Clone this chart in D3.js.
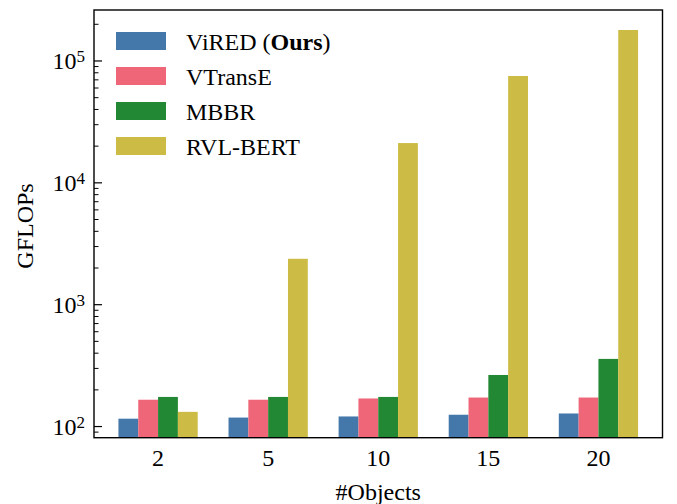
<!DOCTYPE html>
<html>
<head>
<meta charset="utf-8">
<script src="https://cdn.jsdelivr.net/npm/d3@7"></script>
<style>
  html, body { margin: 0; padding: 0; background: #fff; }
  svg { display: block; }
  text { font-family: "Liberation Serif", "DejaVu Serif", serif; fill: #000; }
</style>
</head>
<body>
<svg id="chart" width="677" height="504"></svg>
<script>
const categories = ["2", "5", "10", "15", "20"];
const seriesNames = ["ViRED (Ours)", "VTransE", "MBBR", "RVL-BERT"];
const vired   = [116, 118.5, 121, 125, 128];
const vtranse = [166, 166, 170, 173, 173];
const mbbr    = [175, 175, 175, 265, 359];
const rvlbert = [132, 2380, 21200, 75300, 179500];
const seriesValues = [vired, vtranse, mbbr, rvlbert];
const colors = ["#4477AA", "#EE6677", "#228833", "#CCBB44"];
const yTickExps = [2, 3, 4, 5];

const svg = d3.select("#chart");
const L = 94, R = 662.5, T = 10, B = 437.7;

const x = d3.scaleLinear().domain([-0.582, 4.582]).range([L, R]);
const y = d3.scaleLog().domain([81, 262000]).range([B, T]);
const barW = 0.18;

// bars
seriesValues.forEach((vals, s) => {
  svg.append("g").selectAll("rect").data(vals).join("rect")
    .attr("x", (d, i) => x(i + (s - 1.5) * barW - barW / 2))
    .attr("width", x(barW) - x(0))
    .attr("y", d => y(d))
    .attr("height", d => B - y(d))
    .attr("fill", colors[s]);
});

// y axis ticks (inward)
const majors = yTickExps.map(e => Math.pow(10, e));
const minors = [];
for (let e = 1; e <= 5; e++) for (let m = 2; m <= 9; m++) {
  const v = m * Math.pow(10, e);
  if (v >= 81 && v <= 262000) minors.push(v);
}
const axisG = svg.append("g");
axisG.selectAll("line.minor").data(minors).join("line")
  .attr("x1", L).attr("x2", L + 4.5)
  .attr("y1", d => y(d)).attr("y2", d => y(d))
  .attr("stroke", "#000").attr("stroke-width", 1);
axisG.selectAll("line.major").data(majors).join("line")
  .attr("x1", L).attr("x2", L + 8)
  .attr("y1", d => y(d)).attr("y2", d => y(d))
  .attr("stroke", "#000").attr("stroke-width", 1.2);

// y tick labels
yTickExps.forEach(e => {
  const t = svg.append("text")
    .attr("x", 85).attr("y", y(Math.pow(10, e)) + 8.5)
    .attr("text-anchor", "end").attr("font-size", 24);
  t.append("tspan").text("10");
  t.append("tspan").attr("font-size", 17).attr("dy", -7).text(String(e));
});

// x tick labels
svg.append("g").selectAll("text").data(categories).join("text")
  .attr("x", (d, i) => x(i)).attr("y", 466)
  .attr("text-anchor", "middle").attr("font-size", 24)
  .text(d => d);

// frame
svg.append("rect").attr("x", L).attr("y", T).attr("width", R - L).attr("height", B - T)
  .attr("fill", "none").attr("stroke", "#000").attr("stroke-width", 1.4);

// axis labels
svg.append("text").attr("x", (L + R) / 2).attr("y", 500)
  .attr("text-anchor", "middle").attr("font-size", 24).text("#Objects");
svg.append("text")
  .attr("transform", `translate(33,226) rotate(-90)`)
  .attr("text-anchor", "middle").attr("font-size", 24).text("GFLOPs");

// legend
const legG = svg.append("g");
seriesNames.forEach((name, s) => {
  const cy = 41 + s * 35;
  legG.append("rect").attr("x", 116).attr("y", cy - 9).attr("width", 50).attr("height", 18)
    .attr("fill", colors[s]);
  const t = legG.append("text").attr("x", 186).attr("y", cy + 8.5).attr("font-size", 24);
  if (s === 0) {
    t.append("tspan").text("ViRED (");
    t.append("tspan").attr("font-weight", "bold").text("Ours");
    t.append("tspan").text(")");
  } else {
    t.text(name);
  }
});
</script>
</body>
</html>
